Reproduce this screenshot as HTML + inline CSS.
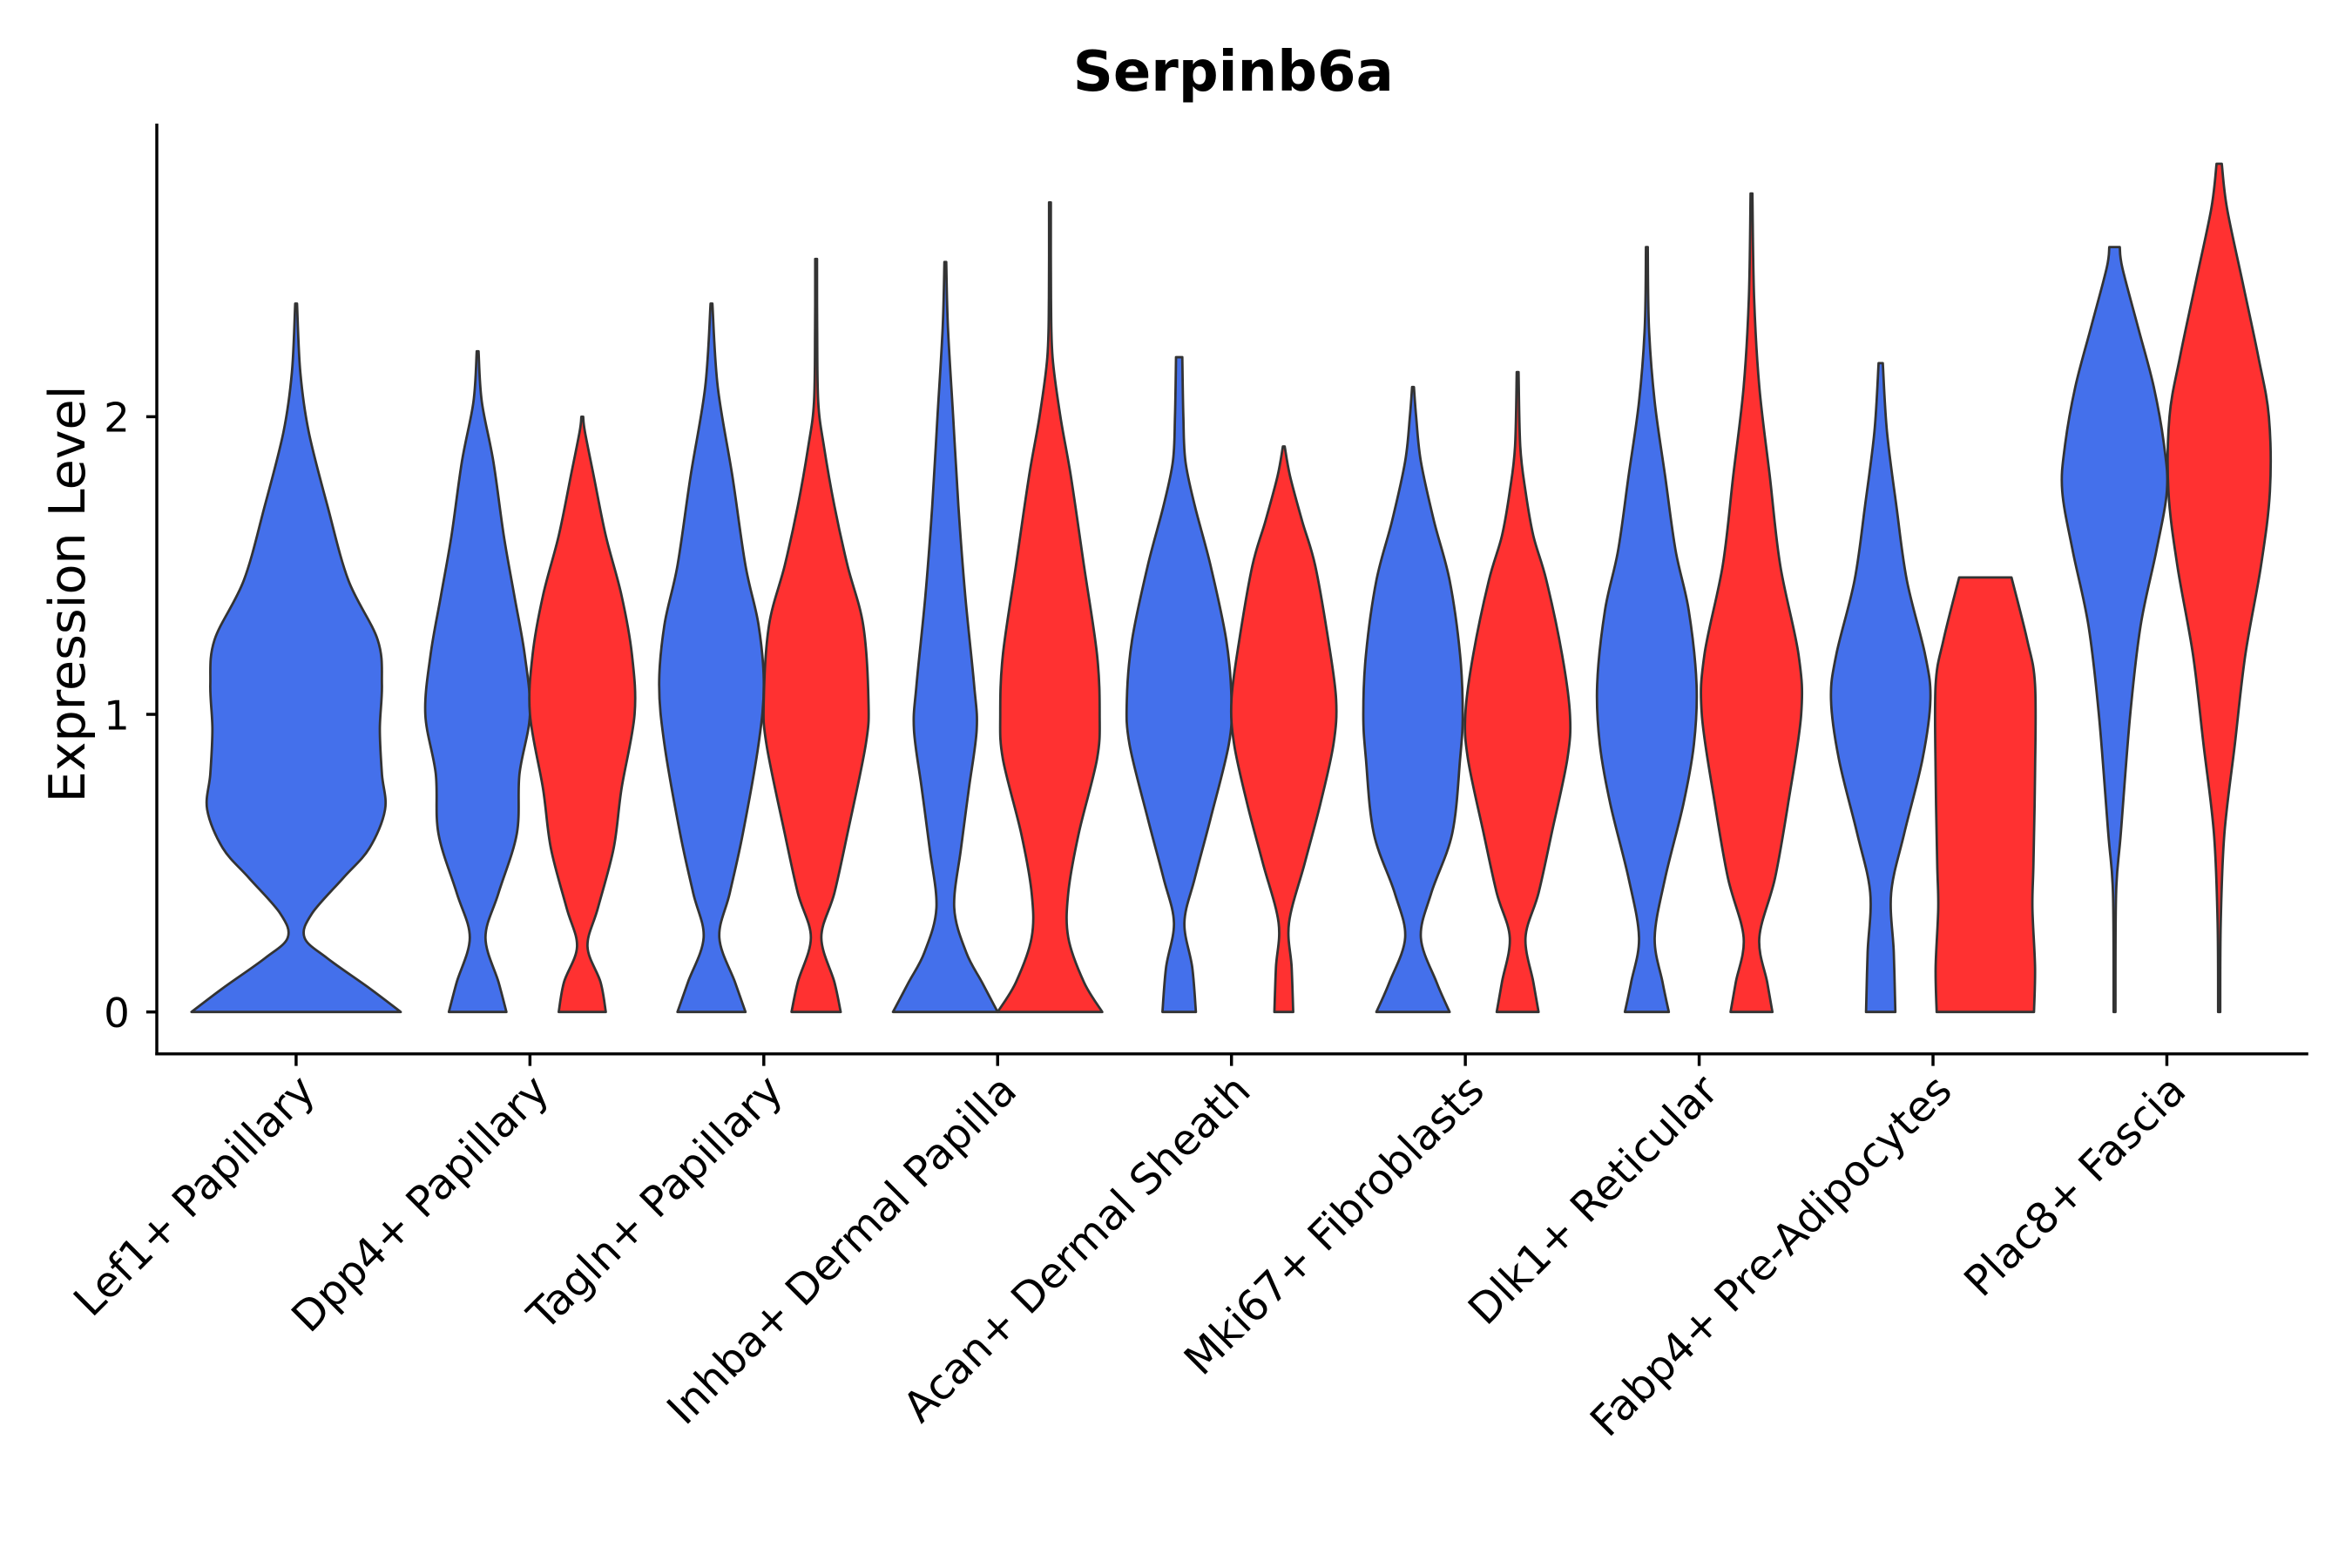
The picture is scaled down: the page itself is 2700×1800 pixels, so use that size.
<!DOCTYPE html>
<html><head><meta charset="utf-8"><style>
html,body{margin:0;padding:0;background:#fff;}
svg{display:block;font-family:"DejaVu Sans","Liberation Sans",sans-serif;}
</style></head><body>
<svg id="chart" width="2700" height="1800" viewBox="0 0 1560 1040" xmlns="http://www.w3.org/2000/svg">
<rect width="1560" height="1040" fill="#fff"/>
<text x="818" y="60" text-anchor="middle" font-size="37" font-weight="bold">Serpinb6a</text>
<text transform="translate(56,394) rotate(-90)" text-anchor="middle" font-size="33">Expression Level</text>
<g id="violins"></g>
<g id="axes"></g>
</svg>
<script>
const categories = ["Lef1+ Papillary","Dpp4+ Papillary","Tagln+ Papillary","Inhba+ Dermal Papilla","Acan+ Dermal Sheath","Mki67+ Fibroblasts","Dlk1+ Reticular","Fabp4+ Pre-Adipocytes","Plac8+ Fascia"];
const yTicks = [0,1,2];
// each violin: category index, group (0 single,1 blue,2 red), profile [value, relative density]
const violinCategory = [0,1,1,2,2,3,3,4,4,5,5,6,6,7,7,8,8];
const violinGroup    = [0,1,2,1,2,1,2,1,2,1,2,1,2,1,2,1,2];
const profiles = [
 [[0,1],[0.08,0.7],[0.18,0.3],[0.25,0.08],[0.33,0.15],[0.45,0.45],[0.55,0.7],[0.68,0.85],[0.8,0.82],[0.95,0.8],[1.1,0.82],[1.25,0.78],[1.45,0.5],[1.7,0.3],[1.95,0.12],[2.15,0.04],[2.38,0]],
 [[0,0.55],[0.1,0.4],[0.25,0.15],[0.4,0.4],[0.6,0.75],[0.8,0.8],[1.0,1.0],[1.2,0.9],[1.4,0.7],[1.6,0.5],[1.85,0.3],[2.05,0.08],[2.22,0]],
 [[0,0.45],[0.1,0.35],[0.22,0.1],[0.35,0.3],[0.55,0.6],[0.75,0.75],[1.0,1.0],[1.2,0.95],[1.4,0.75],[1.6,0.45],[1.8,0.22],[1.95,0.05],[2.0,0]],
 [[0,0.65],[0.1,0.45],[0.25,0.15],[0.4,0.35],[0.6,0.6],[0.9,0.9],[1.1,1.0],[1.3,0.9],[1.5,0.65],[1.8,0.4],[2.1,0.12],[2.38,0]],
 [[0,0.47],[0.1,0.35],[0.25,0.1],[0.4,0.35],[0.6,0.6],[0.9,0.95],[1.05,1.0],[1.3,0.9],[1.5,0.6],[1.7,0.35],[1.9,0.15],[2.05,0.04],[2.3,0.02],[2.53,0]],
 [[0,1.0],[0.1,0.7],[0.2,0.4],[0.35,0.17],[0.55,0.3],[0.75,0.45],[0.95,0.6],[1.1,0.55],[1.4,0.38],[1.7,0.25],[2.0,0.15],[2.3,0.05],[2.52,0]],
 [[0,1.0],[0.1,0.65],[0.25,0.35],[0.4,0.35],[0.6,0.55],[0.85,0.9],[1.0,0.95],[1.2,0.9],[1.5,0.65],[1.8,0.4],[2.0,0.2],[2.2,0.05],[2.4,0.02],[2.72,0]],
 [[0,0.32],[0.15,0.25],[0.3,0.1],[0.45,0.3],[0.65,0.6],[0.9,0.95],[1.05,1.0],[1.25,0.9],[1.5,0.6],[1.7,0.3],[1.85,0.12],[2.0,0.08],[2.2,0.06]],
 [[0,0.18],[0.15,0.15],[0.3,0.1],[0.5,0.4],[0.7,0.7],[0.9,0.95],[1.05,1.0],[1.25,0.85],[1.5,0.6],[1.65,0.35],[1.8,0.12],[1.9,0]],
 [[0,0.7],[0.1,0.45],[0.25,0.15],[0.4,0.35],[0.6,0.75],[0.85,0.9],[1.0,0.95],[1.2,0.9],[1.45,0.7],[1.65,0.4],[1.85,0.15],[2.0,0.06],[2.1,0]],
 [[0,0.4],[0.1,0.3],[0.25,0.15],[0.4,0.4],[0.6,0.65],[0.85,0.95],[1.0,1.0],[1.2,0.85],[1.45,0.55],[1.6,0.3],[1.75,0.15],[1.9,0.05],[2.15,0]],
 [[0,0.42],[0.1,0.3],[0.25,0.15],[0.45,0.35],[0.7,0.7],[0.9,0.9],[1.1,0.95],[1.35,0.8],[1.55,0.55],[1.8,0.35],[2.05,0.15],[2.3,0.04],[2.57,0]],
 [[0,0.4],[0.1,0.3],[0.25,0.15],[0.45,0.45],[0.7,0.7],[1.0,0.95],[1.2,0.9],[1.5,0.55],[1.8,0.35],[2.1,0.15],[2.4,0.05],[2.75,0]],
 [[0,0.28],[0.2,0.25],[0.4,0.2],[0.6,0.45],[0.85,0.8],[1.05,0.95],[1.2,0.85],[1.45,0.5],[1.7,0.3],[1.95,0.12],[2.18,0.04]],
 [[0,0.93],[0.15,0.95],[0.35,0.9],[0.5,0.92],[0.8,0.95],[1.1,0.95],[1.25,0.8],[1.46,0.5]],
 [[0,0.01],[0.4,0.03],[0.6,0.12],[1.0,0.3],[1.3,0.5],[1.55,0.8],[1.75,1.0],[1.9,0.95],[2.1,0.75],[2.3,0.45],[2.5,0.15],[2.57,0.1]],
 [[0,0.02],[0.3,0.03],[0.6,0.1],[0.9,0.3],[1.2,0.5],[1.5,0.8],[1.75,0.97],[2.0,0.95],[2.2,0.75],[2.45,0.45],[2.7,0.15],[2.85,0.05]]
];
const groupColors = ["#4470EB","#4470EB","#FF3131"];

const NS="http://www.w3.org/2000/svg";
const plot={left:104,right:1531,top:82,bottom:699};
const yScale=v=>671.2-v*197.4;
const xBand=i=>196.4+i*155.1;
const groupOffset=[0,-34.7,34.7];
const groupHalf=[69.4,34.7,34.7];

function catmull(pts){
  let d="";
  for(let i=0;i<pts.length-1;i++){
    const p0=pts[Math.max(i-1,0)],p1=pts[i],p2=pts[i+1],p3=pts[Math.min(i+2,pts.length-1)];
    const c1=[p1[0]+(p2[0]-p0[0])/6,p1[1]+(p2[1]-p0[1])/6];
    const c2=[p2[0]-(p3[0]-p1[0])/6,p2[1]-(p3[1]-p1[1])/6];
    d+=` C${c1[0].toFixed(2)},${c1[1].toFixed(2)} ${c2[0].toFixed(2)},${c2[1].toFixed(2)} ${p2[0].toFixed(2)},${p2[1].toFixed(2)}`;
  }
  return d;
}
const vg=document.getElementById('violins');
profiles.forEach((prof,k)=>{
  const g=violinGroup[k];
  const cx=xBand(violinCategory[k])+groupOffset[g];
  const hw=groupHalf[g];
  const right=prof.map(p=>[cx+Math.max(p[1]*hw,0.6),yScale(p[0])]);
  const left=prof.slice().reverse().map(p=>[cx-Math.max(p[1]*hw,0.6),yScale(p[0])]);
  let d=`M${right[0][0]},${right[0][1]}`+catmull(right)+` L${left[0][0]},${left[0][1]}`+catmull(left)+" Z";
  const path=document.createElementNS(NS,'path');
  path.setAttribute('d',d);
  path.setAttribute('fill',groupColors[g]);
  path.setAttribute('stroke','#333');
  path.setAttribute('stroke-width','1.6');
  path.setAttribute('stroke-linejoin','round');
  
  
  vg.appendChild(path);
});
const ax=document.getElementById('axes');
function line(x1,y1,x2,y2,name){
  const l=document.createElementNS(NS,'line');
  l.setAttribute('x1',x1);l.setAttribute('y1',y1);l.setAttribute('x2',x2);l.setAttribute('y2',y2);
  l.setAttribute('stroke','#000');l.setAttribute('stroke-width','2');
  
  
  ax.appendChild(l);
}
line(plot.left,plot.top,plot.left,plot.bottom+1,'y-axis-line');
line(plot.left-1,plot.bottom,plot.right,plot.bottom,'x-axis-line');
yTicks.forEach(v=>{
  line(plot.left-7,yScale(v),plot.left,yScale(v),'y-tick');
  const t=document.createElementNS(NS,'text');
  t.setAttribute('x',86);t.setAttribute('y',yScale(v)+10);
  t.setAttribute('text-anchor','end');t.setAttribute('font-size','27');
  t.textContent=v;
  
  
  ax.appendChild(t);
});
categories.forEach((c,i)=>{
  const x=xBand(i);
  line(x,plot.bottom,x,plot.bottom+8,'x-tick');
  const t=document.createElementNS(NS,'text');
  t.setAttribute('transform',`translate(${x+14},${plot.bottom+26}) rotate(-45)`);
  t.setAttribute('text-anchor','end');t.setAttribute('font-size','28');
  t.textContent=c;
  
  
  ax.appendChild(t);
});
</script>
</body></html>
